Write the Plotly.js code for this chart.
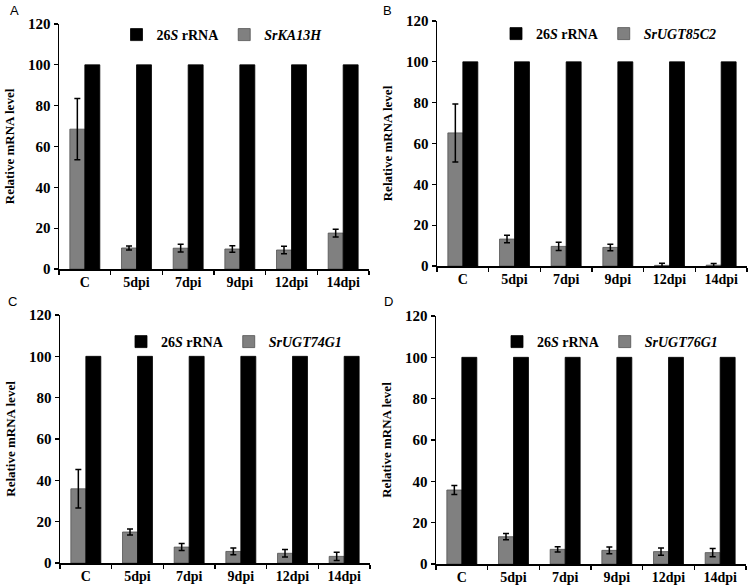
<!DOCTYPE html>
<html>
<head>
<meta charset="utf-8">
<script src="https://cdn.plot.ly/plotly-3.0.1.min.js"></script>
<style>html,body{margin:0;padding:0;background:#fff;}#chart{width:753px;height:587px;}</style>
</head>
<body>
<div id="chart"></div>
<script>
const categories = ["C", "5dpi", "7dpi", "9dpi", "12dpi", "14dpi"];
const refName = "26<i>S</i> rRNA";

const refA = [100, 100, 100, 100, 100, 100];
const geneNameA = "SrKA13H";
const geneA = [68.5, 10.3, 10.2, 9.8, 9.3, 17.6];
const errA = [15, 1, 1.9, 1.6, 1.8, 1.9];

const refB = [100, 100, 100, 100, 100, 100];
const geneNameB = "SrUGT85C2";
const geneB = [65.2, 13.2, 9.6, 9.1, 0.3, 0.4];
const errB = [14.2, 1.8, 2, 1.6, 1, 0.8];

const refC = [100, 100, 100, 100, 100, 100];
const geneNameC = "SrUGT74G1";
const geneC = [35.9, 15, 7.7, 5.6, 4.7, 3.2];
const errC = [9.3, 1.5, 1.7, 1.6, 1.8, 2];

const refD = [100, 100, 100, 100, 100, 100];
const geneNameD = "SrUGT76G1";
const geneD = [35.8, 13.2, 7.1, 6.6, 6.0, 5.5];
const errD = [2.2, 1.5, 1.3, 1.6, 1.8, 2];

const panelLetters = ["A", "B", "C", "D"];

const FONT = "Liberation Serif";
const W = 753, H = 587;
const px = v => v / W;
const py = v => 1 - v / H;

const panels = [
  {ref: refA, gene: geneA, err: errA, name: geneNameA, x: [59, 369], y: [269, 24], leg: 35, legx: 222, letter: [8, 10]},
  {ref: refB, gene: geneB, err: errB, name: geneNameB, x: [437, 747], y: [266, 21], leg: 34, legx: 609, letter: [381, 10]},
  {ref: refC, gene: geneC, err: errC, name: geneNameC, x: [60, 370], y: [563, 315], leg: 342, legx: 234, letter: [6, 301]},
  {ref: refD, gene: geneD, err: errD, name: geneNameD, x: [436, 746], y: [564, 316], leg: 342, legx: 610, letter: [382, 301]}
];

const data = [];
const layout = {
  width: W, height: H,
  margin: {l: 0, r: 0, t: 0, b: 0},
  paper_bgcolor: "#fff", plot_bgcolor: "#fff",
  barmode: "group", bargap: 0.42, bargroupgap: 0,
  font: {family: FONT, color: "#000"},
  annotations: []
};

panels.forEach((p, i) => {
  const n = i === 0 ? "" : String(i + 1);
  const xa = "x" + n, ya = "y" + n, lg = "legend" + n;
  data.push({
    type: "bar", x: categories, y: p.gene, name: "<i>" + p.name + "</i>",
    xaxis: xa, yaxis: ya, legend: lg, legendrank: 2,
    marker: {color: "#808080", line: {color: "#505050", width: 0.8}},
    error_y: {type: "data", array: p.err, visible: true, color: "#000", thickness: 1.5, width: 3}
  });
  data.push({
    type: "bar", x: categories, y: p.ref, name: refName,
    xaxis: xa, yaxis: ya, legend: lg, legendrank: 1,
    marker: {color: "#000", line: {color: "#000", width: 0.8}}
  });
  layout["xaxis" + n] = {
    domain: [px(p.x[0]), px(p.x[1])], anchor: ya, type: "category",
    showline: true, linecolor: "#000", linewidth: 1.5, showgrid: false, zeroline: false,
    ticks: "outside", tickson: "boundaries", ticklen: 4, tickcolor: "#000", tickwidth: 1.2,
    tickfont: {family: FONT, size: 14, color: "#000", weight: "bold"}, fixedrange: true
  };
  layout["yaxis" + n] = {
    domain: [py(p.y[0]), py(p.y[1])], anchor: xa, range: [0, 120], dtick: 20,
    showline: true, linecolor: "#000", linewidth: 1.5, showgrid: false, zeroline: false,
    ticks: "outside", ticklen: 4, tickcolor: "#000", tickwidth: 1.2,
    tickfont: {family: FONT, size: 15, color: "#000", weight: "bold"},
    title: {text: "Relative mRNA level", font: {family: FONT, size: 13, color: "#000", weight: "bold"}, standoff: 10},
    fixedrange: true
  };
  layout[lg] = {
    orientation: "h", x: px(p.legx), xanchor: "center",
    y: py(p.leg), yanchor: "middle", bgcolor: "rgba(0,0,0,0)",
    font: {family: FONT, size: 14, color: "#000", weight: "bold"},
    traceorder: "normal", itemwidth: 30
  };
  layout.annotations.push({
    text: panelLetters[i], xref: "paper", yref: "paper",
    x: px(p.letter[0]), y: py(p.letter[1]), xanchor: "left", yanchor: "middle",
    showarrow: false, font: {family: "Liberation Sans", size: 13, color: "#000"}
  });
});

Plotly.newPlot("chart", data, layout, {displayModeBar: false, staticPlot: true});
</script>
</body>
</html>
